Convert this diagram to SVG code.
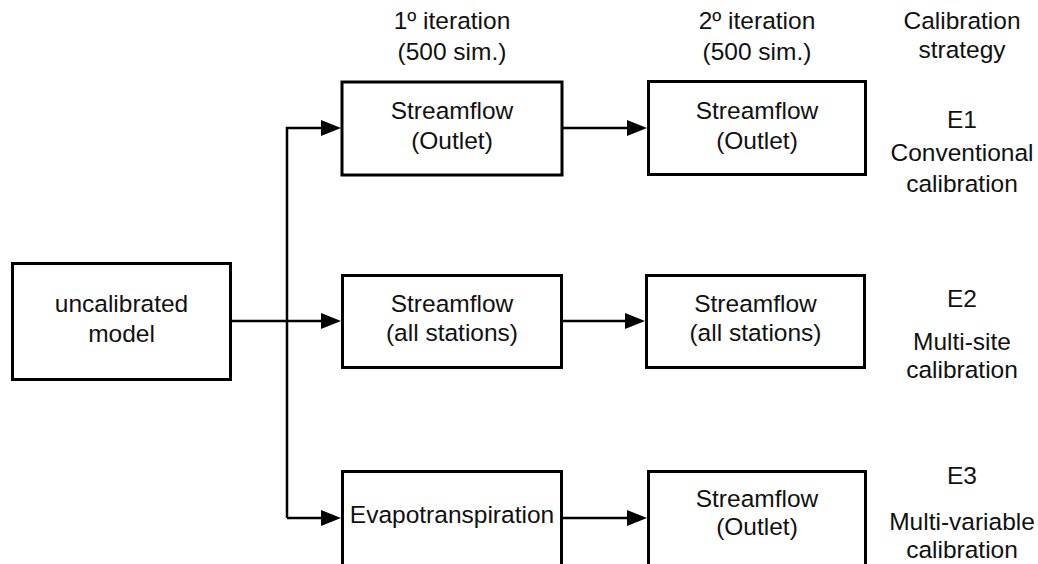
<svg xmlns="http://www.w3.org/2000/svg" width="1038" height="564" viewBox="0 0 1038 564">
  <style>
    .box { fill: #ffffff; stroke: #000000; stroke-width: 3; }
    .lbl { font-family: "Liberation Sans", Arial, sans-serif; font-size: 24.5px; fill: #111111; text-anchor: middle; }
    .wire { fill: none; stroke: #000000; stroke-width: 2.5; }
  </style>
  <defs>
    <marker id="head" viewBox="0 0 20 16" markerWidth="20" markerHeight="16" markerUnits="userSpaceOnUse" refX="10" refY="8" orient="auto">
      <path d="M0,0 L20,8 L0,16 Z" fill="#000000"/>
    </marker>
  </defs>

  <rect width="1038" height="564" fill="#ffffff"/>

  <!-- column headers -->
  <g id="headers">
    <text class="lbl" x="452" y="29">1º iteration</text>
    <text class="lbl" x="452" y="60">(500 sim.)</text>
    <text class="lbl" x="757" y="29">2º iteration</text>
    <text class="lbl" x="757" y="60">(500 sim.)</text>
    <text class="lbl" x="962" y="29">Calibration</text>
    <text class="lbl" x="962" y="58">strategy</text>
  </g>

  <!-- connectors -->
  <g id="connectors">
    <path class="wire" d="M232,321 L331,321" marker-end="url(#head)"/>
    <path class="wire" d="M287,518 L287,128 L331,128" marker-end="url(#head)"/>
    <path class="wire" d="M287,518 L331,518" marker-end="url(#head)"/>
    <path class="wire" d="M563,128 L637,128" marker-end="url(#head)"/>
    <path class="wire" d="M563,321 L635,321" marker-end="url(#head)"/>
    <path class="wire" d="M563,518 L637,518" marker-end="url(#head)"/>
  </g>

  <!-- nodes -->
  <g id="uncalibrated">
    <rect class="box" x="12.5" y="263.5" width="218" height="116"/>
    <text class="lbl" x="121.5" y="312">uncalibrated</text>
    <text class="lbl" x="121.5" y="342">model</text>
  </g>

  <g id="e1-iter1">
    <rect class="box" x="342" y="82" width="220" height="93"/>
    <text class="lbl" x="452" y="119">Streamflow</text>
    <text class="lbl" x="452" y="149">(Outlet)</text>
  </g>
  <g id="e1-iter2">
    <rect class="box" x="648.5" y="81.5" width="217" height="93"/>
    <text class="lbl" x="757" y="119">Streamflow</text>
    <text class="lbl" x="757" y="149">(Outlet)</text>
  </g>

  <g id="e2-iter1">
    <rect class="box" x="342.5" y="275.5" width="219" height="92"/>
    <text class="lbl" x="452" y="312">Streamflow</text>
    <text class="lbl" x="452" y="341">(all stations)</text>
  </g>
  <g id="e2-iter2">
    <rect class="box" x="646.5" y="275.5" width="218" height="92"/>
    <text class="lbl" x="755.5" y="312">Streamflow</text>
    <text class="lbl" x="755.5" y="341">(all stations)</text>
  </g>

  <g id="e3-iter1">
    <rect class="box" x="342.5" y="471.5" width="219" height="94"/>
    <text class="lbl" x="452" y="523">Evapotranspiration</text>
  </g>
  <g id="e3-iter2">
    <rect class="box" x="648.5" y="471.5" width="217" height="94"/>
    <text class="lbl" x="757" y="507">Streamflow</text>
    <text class="lbl" x="757" y="535">(Outlet)</text>
  </g>

  <!-- strategy labels -->
  <g id="strategy-e1">
    <text class="lbl" x="962" y="128">E1</text>
    <text class="lbl" x="962" y="161">Conventional</text>
    <text class="lbl" x="962" y="192">calibration</text>
  </g>
  <g id="strategy-e2">
    <text class="lbl" x="962" y="307">E2</text>
    <text class="lbl" x="962" y="350">Multi-site</text>
    <text class="lbl" x="962" y="378">calibration</text>
  </g>
  <g id="strategy-e3">
    <text class="lbl" x="962" y="484">E3</text>
    <text class="lbl" x="962" y="530">Multi-variable</text>
    <text class="lbl" x="962" y="558">calibration</text>
  </g>
</svg>
